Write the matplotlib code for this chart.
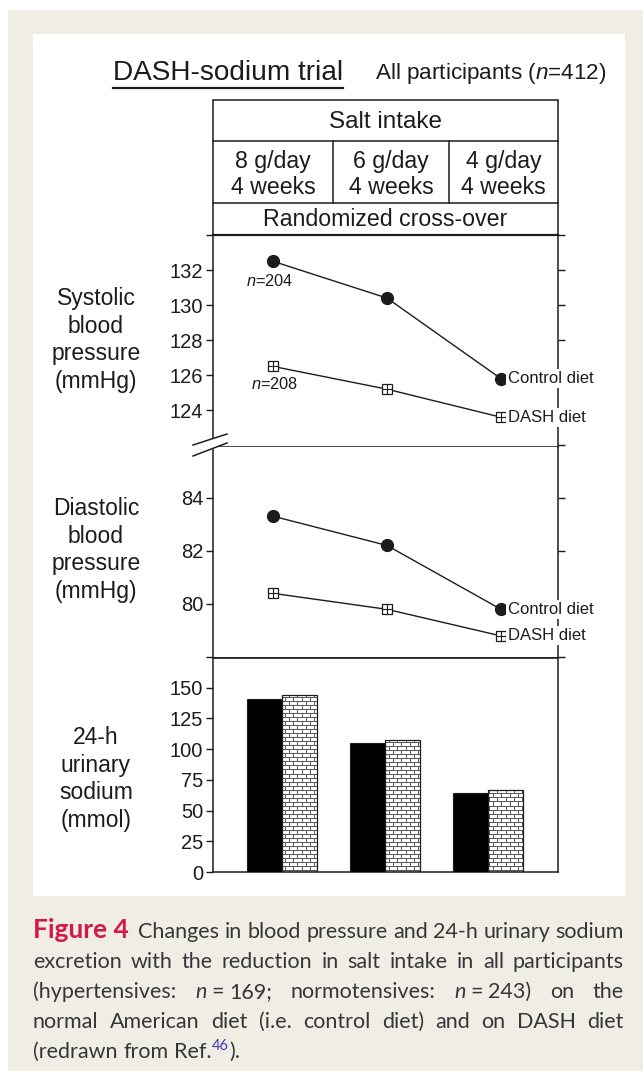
import numpy as np
import matplotlib
matplotlib.use('Agg')
from matplotlib import pyplot as plt
from matplotlib.patches import Rectangle, Polygon

plt.rcParams['font.family'] = ['Liberation Sans', 'DejaVu Sans']
plt.rcParams['mathtext.fontset'] = 'custom'
plt.rcParams['mathtext.rm'] = 'Liberation Sans'
plt.rcParams['mathtext.it'] = 'Liberation Sans:italic'

# data
salt_levels = ['8 g/day\n4 weeks', '6 g/day\n4 weeks', '4 g/day\n4 weeks']
sbp_control = [132.5, 130.4, 125.8]
sbp_dash = [126.5, 125.2, 123.6]
dbp_control = [83.3, 82.2, 79.8]
dbp_dash = [80.4, 79.8, 78.8]
na_control = [141, 105, 64]
na_dash = [144, 107, 67]
sbp_ticks = [122, 124, 126, 128, 130, 132, 134]
dbp_ticks = [78, 80, 82, 84]
na_ticks = [0, 25, 50, 75, 100, 125, 150]

W, H = 643, 1071
INK = '#1c1c1c'
BEIGE = '#efede4'


def rect(x0, y0, x1, y1):
    return [x0 / W, 1 - y1 / H, (x1 - x0) / W, (y1 - y0) / H]


fig = plt.figure(figsize=(W / 100, H / 100), dpi=100)
fig.patch.set_facecolor('white')

bg = fig.add_axes([0, 0, 1, 1], zorder=-5)
bg.set_xlim(0, W)
bg.set_ylim(H, 0)
bg.axis('off')
bg.add_patch(Rectangle((8, 10), W, H, fc=BEIGE, ec='none'))
bg.add_patch(Rectangle((33, 34), 592, 862, fc='white', ec='none'))

# title
t = bg.text(113, 73, 'DASH-sodium trial', fontsize=20.2, color=INK, va='center', ha='left')
bg.text(375, 73, 'All participants ($n$=412)', fontsize=16.2, color=INK, va='center', ha='left')
renderer = fig.canvas.get_renderer()
bb = t.get_window_extent(renderer)
bg.plot([bb.x0, bb.x1], [88, 88], color=INK, lw=1.6)

# design table
TL, TR = 213, 558
bg.add_patch(Rectangle((TL, 100), TR - TL, 135, fc='none', ec=INK, lw=1.1))
bg.plot([TL, TR], [141, 141], color=INK, lw=1.1)
bg.plot([TL, TR], [203, 203], color=INK, lw=1.1)
col_edges = [TL, 333, 449, TR]
for xv in col_edges[1:-1]:
    bg.plot([xv, xv], [141, 203], color=INK, lw=1.1)
bg.text((TL + TR) / 2, 121.5, 'Salt intake', fontsize=17.5, color=INK, ha='center', va='center')
for i, lab in enumerate(salt_levels):
    bg.text((col_edges[i] + col_edges[i + 1]) / 2, 174.5, lab, fontsize=16.7, color=INK,
            ha='center', va='center', linespacing=1.12)
bg.text((TL + TR) / 2, 219, 'Randomized cross-over', fontsize=16.7, color=INK, ha='center', va='center')

# y labels
ylab_kw = dict(fontsize=16.5, color=INK, ha='center', va='center', multialignment='center', linespacing=1.26)
bg.text(96, 340, 'Systolic\nblood\npressure\n(mmHg)', **ylab_kw)
bg.text(96, 550, 'Diastolic\nblood\npressure\n(mmHg)', **ylab_kw)
bg.text(96, 779, '24-h\nurinary\nsodium\n(mmol)', **ylab_kw)

x = np.arange(len(salt_levels))


def style_axes(ax, right=True):
    for s in ax.spines.values():
        s.set_color(INK)
        s.set_linewidth(1.1)
    ax.set_xticks([])
    ax.tick_params(axis='y', direction='out', length=5, width=1.0, colors=INK,
                   labelsize=14.5, pad=2, right=right)


def line_panel(ax, ctrl, dash):
    ax.plot(x, ctrl, color=INK, lw=1.0, marker='o', ms=8.5, mfc=INK, mec=INK, zorder=4)
    ax.plot(x, dash, color=INK, lw=1.0, marker='s', ms=7, mfc='white', mec=INK, mew=0.9, zorder=4)
    ax.plot(x, dash, ls='none', marker='+', ms=7, color=INK, mew=0.8, zorder=5)
    lab_kw = dict(textcoords='offset points', xytext=(5, 0), va='center', ha='left', fontsize=12,
                  color=INK, zorder=6, annotation_clip=False,
                  bbox=dict(fc='white', ec='none', pad=1.5))
    ax.annotate('Control diet', (x[-1], ctrl[-1]), **lab_kw)
    ax.annotate('DASH diet', (x[-1], dash[-1]), **lab_kw)


# systolic
ax1 = fig.add_axes(rect(213, 235, 558, 447))
ax1.set_xlim(-0.526, 2.5)
ax1.set_ylim(121.9, 134)
style_axes(ax1)
ax1.spines['top'].set_linewidth(1.6)
ax1.set_yticks(sbp_ticks)
ax1.set_yticklabels(['' if v in (sbp_ticks[0], sbp_ticks[-1]) else str(v) for v in sbp_ticks])
line_panel(ax1, sbp_control, sbp_dash)
ax1.annotate('$n$=204', (x[0], sbp_control[0]), textcoords='offset points', xytext=(-2, -14),
             ha='center', va='center', fontsize=11.8, color=INK)
ax1.annotate('$n$=208', (x[0], sbp_dash[0]), textcoords='offset points', xytext=(1, -13),
             ha='center', va='center', fontsize=11.8, color=INK)

# diastolic
ax2 = fig.add_axes(rect(213, 447, 558, 658))
ax2.set_xlim(-0.526, 2.5)
ax2.set_ylim(77.97, 85.9)
style_axes(ax2)
ax2.spines['top'].set_visible(False)
ax2.set_yticks(dbp_ticks)
ax2.set_yticklabels(['' if v == dbp_ticks[0] else str(v) for v in dbp_ticks])
line_panel(ax2, dbp_control, dbp_dash)

# urinary sodium bars
ax3 = fig.add_axes(rect(213, 658, 558, 872))
xl = (-0.67, 2.68)
yl = (0, 174)
bw = 0.34
ax3.bar(x - bw / 2, na_control, bw, color='black', edgecolor=INK, lw=0.8, zorder=3)
dash_bars = ax3.bar(x + bw / 2, na_dash, bw, facecolor='none', edgecolor=INK, lw=0.9, zorder=3)

# brick fill pattern, built at pixel scale of the axes
hh, ww = 214, 345
yy, xx = np.mgrid[0:hh, 0:ww]
row = yy // 4
mortar = (yy % 4 == 0) | (((xx + (row % 2) * 4) % 8) == 0)
brick = np.where(mortar, 0.35, 1.0)
for p in dash_bars:
    im = ax3.imshow(brick, cmap='gray', vmin=0, vmax=1, extent=(xl[0], xl[1], yl[0], yl[1]),
                    aspect='auto', interpolation='nearest', zorder=2)
    im.set_clip_path(p)
ax3.set_xlim(*xl)
ax3.set_ylim(*yl)
style_axes(ax3, right=False)
ax3.spines['top'].set_linewidth(1.2)
ax3.set_yticks(na_ticks)

# axis break marks
ov = fig.add_axes([0, 0, 1, 1], zorder=10)
ov.set_xlim(0, W)
ov.set_ylim(H, 0)
ov.axis('off')
ov.patch.set_alpha(0)
ov.add_patch(Polygon([(193, 445), (227, 434), (227, 443), (193, 456)], closed=True, fc='white', ec='none'))
ov.plot([193, 227], [445, 434], color=INK, lw=1.1)
ov.plot([193, 227], [456, 443], color=INK, lw=1.1)

# caption, justified by hand
CAP = dict(family=['Lato', 'DejaVu Sans'], fontsize=15.5, color='#363636')
RED = dict(CAP, color='#d2194c', weight='bold', fontsize=19)
ITAL = dict(CAP, style='italic')
SUP = dict(CAP, color='#3d3db5', fontsize=10.5)
cx0, cx1 = 33, 624


def w(s, kw):
    tt = bg.text(0, 0, s, **kw)
    v = tt.get_window_extent(renderer).width
    tt.remove()
    return v


space = w('a a', CAP) - w('aa', CAP)


def words(s):
    return [[(wd, CAP, 0, 0)] for wd in s.split()]


def place(tokens, y, justify=True):
    widths = []
    for tok in tokens:
        widths.append(sum(w(s, kw) + pre for s, kw, pre, dy in tok))
    gap = (cx1 - cx0 - sum(widths)) / (len(tokens) - 1) if justify else space
    xc = cx0
    for tok, tw in zip(tokens, widths):
        xp = xc
        for s, kw, pre, dy in tok:
            xp += pre
            bg.text(xp, y - dy, s, ha='left', va='baseline', **kw)
            xp += w(s, kw)
        xc += tw + gap


eq_n = lambda v: [('n', ITAL, 0, 0), ('=', CAP, 5, 0), (v, CAP, 5, 0)]
place([[('Figure 4', RED, 0, 0), ('', CAP, 4, 0)]] + words('Changes in blood pressure and 24-h urinary sodium'), 938)
place(words('excretion with the reduction in salt intake in all participants'), 968)
place(words('(hypertensives:') + [eq_n('169;')] + words('normotensives:') + [eq_n('243)')] + words('on the'), 998)
place(words('normal American diet (i.e. control diet) and on DASH diet'), 1028)
place(words('(redrawn from') + [[('Ref.', CAP, 0, 0), ('46', SUP, 1, 8), (').', CAP, 0, 0)]], 1058, justify=False)

fig.savefig('out.png', dpi=100, facecolor=fig.get_facecolor())
